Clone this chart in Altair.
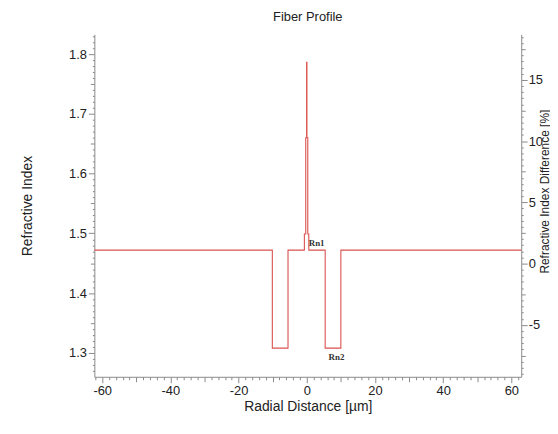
import altair as alt
import pandas as pd
import numpy as np

# profile path (radial distance in um, refractive index)
radial = [-62.3, -10.1, -10.1, -5.5, -5.5, -0.7, -0.7, -0.3, -0.3, -0.05, -0.05,
          0.05, 0.05, 0.3, 0.3, 0.6, 0.6, 5.4, 5.4, 10.0, 10.0, 62.9]
index = [1.472, 1.472, 1.308, 1.308, 1.472, 1.472, 1.499, 1.499, 1.66, 1.66, 1.786,
         1.786, 1.66, 1.66, 1.499, 1.499, 1.472, 1.472, 1.308, 1.308, 1.472, 1.472]

label_names = ["Rn1", "Rn2"]
label_x = [2.9, 8.7]
label_y = [1.484, 1.293]

x_domain = [-62.3, 62.9]
y_domain = [1.260, 1.833]
pct_domain = [-9.24, 18.72]

x_ticks = list(range(-62, 63, 2))
y_ticks = [round(v, 2) for v in np.arange(1.27, 1.835, 0.01)]
pct_ticks = [round(v, 1) for v in np.arange(-9.0, 18.6, 0.5)]

FONT = "Liberation Sans Narrow, Liberation Sans, Arial"
AXIS_GRAY = "#8a8a8a"

df = pd.DataFrame({"r": radial, "n": index, "i": range(len(radial)), "name": [""] * len(radial)})
lab = pd.DataFrame({"name": label_names, "r": label_x, "n": label_y, "i": [0, 1]})
pct = pd.DataFrame({"p": pct_domain})

common_axis = dict(domainColor=AXIS_GRAY, tickColor=AXIS_GRAY, labelColor="#222",
                   labelFont=FONT, labelFontSize=13, titleFont=FONT, titleFontSize=14,
                   titleFontWeight="normal", titleColor="#222", grid=False,
                   labelOverlap=False)

x_axis = alt.Axis(
    title="Radial Distance [µm]", values=x_ticks,
    labelExpr="(datum.value % 20 == 0) ? ('' + datum.value) : ''",
    tickSize={"condition": [{"test": "datum.value % 20 == 0", "value": 6},
                            {"test": "datum.value % 10 == 0", "value": 5}], "value": 3},
    titlePadding=2, labelPadding=2, **common_axis)

y_axis = alt.Axis(
    title="Refractive Index", values=y_ticks,
    labelExpr="(abs(datum.value*10 - round(datum.value*10)) < 0.001) ? format(datum.value, '.1f') : ''",
    tickSize={"condition": [{"test": "abs(datum.value*10 - round(datum.value*10)) < 0.001", "value": 6},
                            {"test": "abs(datum.value*20 - round(datum.value*20)) < 0.001", "value": 4}],
              "value": 2},
    titlePadding=34, labelPadding=2, **common_axis)

p_common = dict(common_axis)
p_common["titleFontSize"] = 12
p_axis = alt.Axis(
    title="Refractive Index Difference [%]", values=pct_ticks, orient="right",
    labelExpr="(abs(datum.value/5 - round(datum.value/5)) < 0.001) ? replace(format(datum.value, 'd'), '−', '-') : ''",
    tickSize={"condition": [{"test": "abs(datum.value/5 - round(datum.value/5)) < 0.001", "value": 6},
                            {"test": "abs(datum.value/2.5 - round(datum.value/2.5)) < 0.001", "value": 4}],
              "value": 2},
    titleAngle=270, titleBaseline="top", titlePadding=-3, titleY=158, labelPadding=1, **p_common)

xs = alt.Scale(domain=x_domain, nice=False, zero=False)
ys = alt.Scale(domain=y_domain, nice=False, zero=False)

x_enc = alt.X("r:Q", scale=xs, axis=x_axis)
y_enc = alt.Y("n:Q", scale=ys, axis=y_axis)

line = alt.Chart(df).mark_line(color="#d9534f", strokeWidth=1.1).encode(
    x=x_enc, y=y_enc, order="i:Q",
)

texts = alt.Chart(lab).mark_text(font="Liberation Serif", fontSize=9, fontWeight="bold",
                                 color="#333", align="center").encode(
    x=x_enc, y=y_enc, text="name:N",
)

right = alt.Chart(pct).mark_point(opacity=0).encode(
    y=alt.Y("p:Q", scale=alt.Scale(domain=pct_domain, nice=False, zero=False), axis=p_axis),
)

chart = alt.layer(alt.layer(line, texts), right).resolve_scale(y="independent").properties(
    width=430, height=345,
    autosize=alt.AutoSizeParams(type="none"),
    padding={"left": 87, "top": 25, "right": 29, "bottom": 40},
    title=alt.TitleParams("Fiber Profile", font=FONT, fontSize=13, fontWeight="normal",
                          color="#222", offset=6),
).configure_view(stroke=None)

chart.save("out.html", embed_options={"renderer": "svg", "actions": False})
